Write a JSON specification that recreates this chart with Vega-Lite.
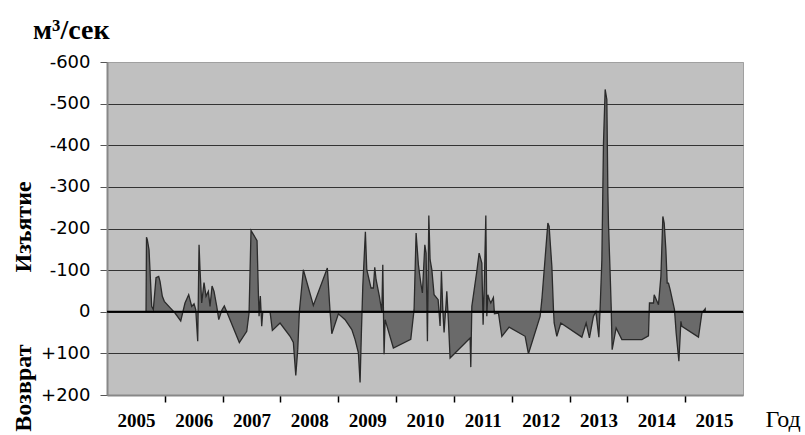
{
  "$schema": "https://vega.github.io/schema/vega-lite/v6.json",
  "width": 636,
  "height": 333,
  "autosize": {"type": "none"},
  "padding": {"left": 107, "top": 62, "right": 62, "bottom": 40},
  "background": "white",
  "title": {"text": "м³/сек", "anchor": "start", "frame": "group", "dx": -74, "dy": 39, "offset": 25, "baseline": "alphabetic", "font": "Liberation Serif", "fontSize": 28, "fontWeight": "bold", "color": "black"},
  "config": {"view": {"fill": "#c0c0c0", "stroke": "#a0a0a0", "strokeWidth": 1}},
  "data": {"values": [
    {"t": 2005.675, "v": 0}, {"t": 2005.683, "v": -179}, {"t": 2005.697, "v": -173}, {"t": 2005.727, "v": -149},
    {"t": 2005.773, "v": -13}, {"t": 2005.801, "v": -5}, {"t": 2005.848, "v": -82}, {"t": 2005.894, "v": -85},
    {"t": 2005.917, "v": -73}, {"t": 2005.957, "v": -37}, {"t": 2005.991, "v": -25}, {"t": 2006.090, "v": -10},
    {"t": 2006.176, "v": 3}, {"t": 2006.275, "v": 22}, {"t": 2006.349, "v": -21}, {"t": 2006.413, "v": -41},
    {"t": 2006.465, "v": -13}, {"t": 2006.505, "v": -19}, {"t": 2006.535, "v": -5}, {"t": 2006.569, "v": 71},
    {"t": 2006.580, "v": -37}, {"t": 2006.592, "v": -161}, {"t": 2006.609, "v": -101}, {"t": 2006.638, "v": -21},
    {"t": 2006.678, "v": -70}, {"t": 2006.713, "v": -37}, {"t": 2006.753, "v": -49}, {"t": 2006.782, "v": -13},
    {"t": 2006.817, "v": -62}, {"t": 2006.851, "v": -49}, {"t": 2006.898, "v": -13}, {"t": 2006.933, "v": 19},
    {"t": 2006.990, "v": -5}, {"t": 2007.029, "v": -14}, {"t": 2007.071, "v": 0}, {"t": 2007.289, "v": 74},
    {"t": 2007.417, "v": 47}, {"t": 2007.457, "v": 3}, {"t": 2007.491, "v": -195}, {"t": 2007.595, "v": -171},
    {"t": 2007.618, "v": -45}, {"t": 2007.630, "v": 11}, {"t": 2007.652, "v": -38}, {"t": 2007.676, "v": 35},
    {"t": 2007.694, "v": 0}, {"t": 2007.820, "v": 0}, {"t": 2007.860, "v": 45}, {"t": 2007.993, "v": 27},
    {"t": 2008.166, "v": 59}, {"t": 2008.223, "v": 74}, {"t": 2008.265, "v": 153}, {"t": 2008.299, "v": 91},
    {"t": 2008.327, "v": 0}, {"t": 2008.396, "v": -101}, {"t": 2008.569, "v": -15}, {"t": 2008.811, "v": -105},
    {"t": 2008.858, "v": 0}, {"t": 2008.888, "v": 53}, {"t": 2009.002, "v": 5}, {"t": 2009.118, "v": 19},
    {"t": 2009.234, "v": 43}, {"t": 2009.291, "v": 67}, {"t": 2009.348, "v": 99}, {"t": 2009.377, "v": 170},
    {"t": 2009.400, "v": 50}, {"t": 2009.424, "v": -61}, {"t": 2009.469, "v": -192}, {"t": 2009.493, "v": -101},
    {"t": 2009.567, "v": -57}, {"t": 2009.607, "v": -57}, {"t": 2009.631, "v": -107}, {"t": 2009.654, "v": -77},
    {"t": 2009.711, "v": -37}, {"t": 2009.753, "v": 0}, {"t": 2009.770, "v": -113}, {"t": 2009.792, "v": 102},
    {"t": 2009.810, "v": 19}, {"t": 2009.953, "v": 87}, {"t": 2010.254, "v": 66}, {"t": 2010.311, "v": -5},
    {"t": 2010.346, "v": -189}, {"t": 2010.386, "v": -113}, {"t": 2010.427, "v": -69}, {"t": 2010.455, "v": -45},
    {"t": 2010.497, "v": -161}, {"t": 2010.519, "v": -141}, {"t": 2010.542, "v": 71}, {"t": 2010.566, "v": -231},
    {"t": 2010.588, "v": -125}, {"t": 2010.618, "v": -101}, {"t": 2010.657, "v": -41}, {"t": 2010.727, "v": -29},
    {"t": 2010.761, "v": 34}, {"t": 2010.784, "v": -97}, {"t": 2010.808, "v": -5}, {"t": 2010.830, "v": 50},
    {"t": 2010.865, "v": -21}, {"t": 2010.877, "v": -49}, {"t": 2010.905, "v": 23}, {"t": 2010.934, "v": 111},
    {"t": 2011.280, "v": 63}, {"t": 2011.292, "v": 133}, {"t": 2011.310, "v": -13}, {"t": 2011.396, "v": -97},
    {"t": 2011.436, "v": -141}, {"t": 2011.483, "v": -117}, {"t": 2011.505, "v": 31}, {"t": 2011.528, "v": -81},
    {"t": 2011.552, "v": -231}, {"t": 2011.569, "v": 11}, {"t": 2011.587, "v": -41}, {"t": 2011.614, "v": -29},
    {"t": 2011.638, "v": -21}, {"t": 2011.683, "v": -34}, {"t": 2011.701, "v": 5}, {"t": 2011.770, "v": 3},
    {"t": 2011.829, "v": 59}, {"t": 2011.955, "v": 37}, {"t": 2012.232, "v": 59}, {"t": 2012.289, "v": 101},
    {"t": 2012.491, "v": 11}, {"t": 2012.521, "v": -29}, {"t": 2012.625, "v": -213}, {"t": 2012.647, "v": -205},
    {"t": 2012.694, "v": -109}, {"t": 2012.722, "v": -5}, {"t": 2012.734, "v": 27}, {"t": 2012.780, "v": 59},
    {"t": 2012.849, "v": 27}, {"t": 2013.213, "v": 61}, {"t": 2013.287, "v": 27}, {"t": 2013.344, "v": 63},
    {"t": 2013.413, "v": 11}, {"t": 2013.455, "v": 0}, {"t": 2013.507, "v": 61}, {"t": 2013.529, "v": -9},
    {"t": 2013.559, "v": -125}, {"t": 2013.587, "v": -405}, {"t": 2013.616, "v": -534}, {"t": 2013.645, "v": -510},
    {"t": 2013.663, "v": -285}, {"t": 2013.673, "v": -213}, {"t": 2013.702, "v": -93}, {"t": 2013.720, "v": -13},
    {"t": 2013.737, "v": 91}, {"t": 2013.806, "v": 39}, {"t": 2013.905, "v": 67}, {"t": 2014.251, "v": 67},
    {"t": 2014.365, "v": 58}, {"t": 2014.382, "v": -21}, {"t": 2014.452, "v": -21}, {"t": 2014.464, "v": -41},
    {"t": 2014.538, "v": -17}, {"t": 2014.580, "v": -85}, {"t": 2014.614, "v": -229}, {"t": 2014.637, "v": -213},
    {"t": 2014.666, "v": -149}, {"t": 2014.689, "v": -69}, {"t": 2014.711, "v": -69}, {"t": 2014.740, "v": -53},
    {"t": 2014.815, "v": -5}, {"t": 2014.844, "v": 51}, {"t": 2014.891, "v": 119}, {"t": 2014.926, "v": 23},
    {"t": 2014.943, "v": 35}, {"t": 2015.230, "v": 61}, {"t": 2015.289, "v": 3}, {"t": 2015.346, "v": -7}
  ]},
  "layer": [
    {
      "mark": {"type": "area", "fill": "#6a6a6a", "fillOpacity": 1, "stroke": "#2a2a2a", "strokeWidth": 1.3},
      "encoding": {
        "x": {
          "field": "t", "type": "quantitative",
          "scale": {"domain": [2005, 2016], "nice": false, "zero": false},
          "axis": {
            "values": [2005.5, 2006, 2006.5, 2007, 2007.5, 2008, 2008.5, 2009, 2009.5, 2010, 2010.5, 2011, 2011.5, 2012, 2012.5, 2013, 2013.5, 2014, 2014.5, 2015, 2015.5],
            "labelExpr": "datum.value % 1 != 0 ? '' + floor(datum.value) : ''",
            "tickOpacity": {"condition": {"test": "datum.value % 1 == 0", "value": 1}, "value": 0},
            "tickSize": 7, "tickColor": "black", "tickWidth": 1.5,
            "labelFont": "Liberation Serif", "labelFontSize": 19, "labelFontWeight": "bold", "labelColor": "black",
            "labelPadding": 9, "labelFlush": false, "labelOverlap": false,
            "grid": false, "domainColor": "#888888", "domainWidth": 2,
            "title": "Год", "titleFont": "Liberation Serif", "titleFontSize": 24, "titleFontWeight": "normal", "titleColor": "black",
            "titleX": 658, "titleY": 31, "titleAlign": "left", "titleBaseline": "alphabetic"
          }
        },
        "y": {
          "field": "v", "type": "quantitative",
          "scale": {"domain": [-600, 200], "reverse": true, "nice": false, "zero": false},
          "axis": {
            "values": [-600, -500, -400, -300, -200, -100, 0, 100, 200],
            "labelExpr": "datum.value > 0 ? '+' + datum.value : '' + datum.value",
            "labelFont": "DejaVu Sans", "labelFontSize": 18, "labelColor": "black", "labelPadding": 10,
            "tickSize": 7, "tickColor": "#555555",
            "domainColor": "#888888", "domainWidth": 2,
            "grid": true,
            "gridColor": {"condition": {"test": "datum.value == -600 || datum.value == 200", "value": "#a0a0a0"}, "value": "#333333"},
            "gridWidth": 1,
            "title": "Возврат\u00a0\u00a0\u00a0\u00a0\u00a0\u00a0\u00a0\u00a0\u00a0\u00a0\u00a0\u00a0Изъятие",
            "titleFont": "Liberation Serif", "titleFontSize": 24, "titleFontWeight": "bold", "titleColor": "black",
            "titleAngle": -90, "titleX": -84, "titleY": 244, "titleAlign": "center", "titleBaseline": "middle"
          }
        }
      }
    },
    {
      "data": {"values": [{}]},
      "mark": {"type": "rule", "color": "black", "strokeWidth": 2.2},
      "encoding": {"y": {"datum": 0}}
    }
  ]
}
